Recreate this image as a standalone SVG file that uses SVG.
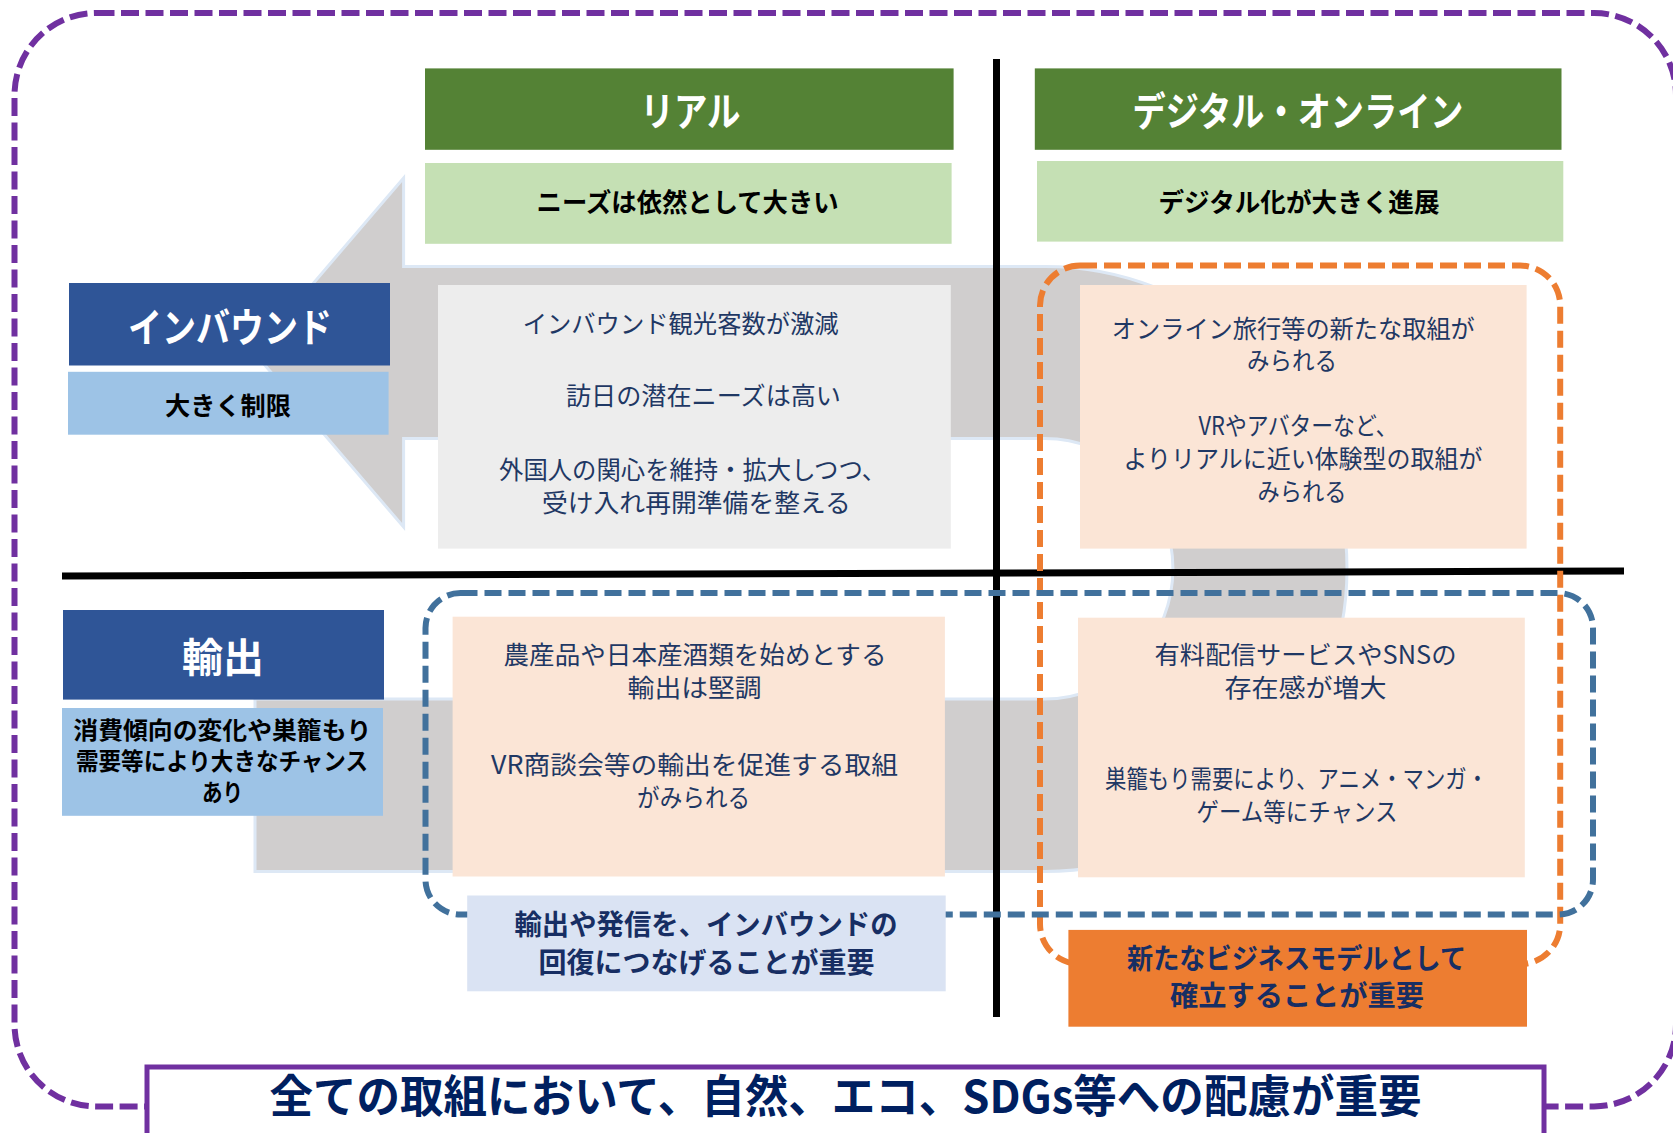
<svg xmlns="http://www.w3.org/2000/svg" width="1673" height="1133" viewBox="0 0 1673 1133">
<style>
text{font-family:"Noto Sans CJK JP","Noto Sans",sans-serif;text-anchor:middle}
.body{font-size:25px;fill:#1F3864}
.hdr{font-size:40px;font-weight:700;fill:#FFFFFF}
.sub{font-size:26px;font-weight:700;fill:#000000}
.key{font-size:28px;font-weight:700;fill:#172E63}
.green{fill:#548235}
.lgreen{fill:#C5E0B4}
.navy{fill:#2F5597}
.sky{fill:#9DC3E6}
.peach{fill:#FBE5D6}
.dash{fill:none;stroke-width:6;stroke-dasharray:17 7}
</style>
<rect x="0" y="0" width="1673" height="1133" fill="#FFFFFF"/>
<g id="outer-frame">
<rect x="14.5" y="13" width="1661.5" height="1093.4" rx="82" ry="82" fill="none" stroke="#7030A0" stroke-width="6" stroke-dasharray="18 6.5"/>
</g>
<g id="connectors">
<path d="M254 352.5 L403.6 178 L403.6 266.5 L1045 266.5 A302 302.5 0 0 1 1045 871.5 L255 871.5 L255 699 L1045 699 A128 130.25 0 0 0 1045 438.5 L403.6 438.5 L403.6 527 Z" fill="#D0CECE" stroke="#DDE8F5" stroke-width="3" stroke-linejoin="miter"/>
</g>
<g id="axes">
<line x1="996.5" y1="59" x2="996.5" y2="1017" stroke="#000" stroke-width="7"/>
<line x1="62" y1="576" x2="1624" y2="571" stroke="#000" stroke-width="7"/>
</g>
<g id="col-real">
<rect class="green" x="425" y="68.4" width="528.6" height="81.4"/>
<text class="hdr" x="690.5" y="126" textLength="100" lengthAdjust="spacingAndGlyphs">リアル</text>
</g>
<g id="col-real-sub">
<rect class="lgreen" x="425" y="163" width="526.6" height="80.8"/>
<text class="sub" x="687.6" y="212" textLength="302" lengthAdjust="spacingAndGlyphs">ニーズは依然として大きい</text>
</g>
<g id="col-digital">
<rect class="green" x="1034.8" y="68.4" width="526.7" height="81.4"/>
<text class="hdr" x="1298" y="126" textLength="331" lengthAdjust="spacingAndGlyphs">デジタル・オンライン</text>
</g>
<g id="col-digital-sub">
<rect class="lgreen" x="1037" y="161" width="526.3" height="80.6"/>
<text class="sub" x="1299" y="212" textLength="281" lengthAdjust="spacingAndGlyphs">デジタル化が大きく進展</text>
</g>
<g id="frame-orange">
<rect class="dash" x="1040" y="265.6" width="520.2" height="698.4" rx="40" ry="40" stroke="#ED7D31"/>
</g>
<g id="frame-blue">
<rect class="dash" x="425.5" y="593" width="1167.5" height="321.5" rx="35" ry="35" stroke="#41719C"/>
</g>
<g id="row-inbound">
<rect class="navy" x="69" y="283" width="321" height="82.5"/>
<text class="hdr" x="230" y="342" textLength="204" lengthAdjust="spacingAndGlyphs">インバウンド</text>
</g>
<g id="row-inbound-sub">
<rect class="sky" x="68" y="371.8" width="320.6" height="62.9"/>
<text class="sub" x="228" y="415" style="font-size:25px" textLength="126" lengthAdjust="spacingAndGlyphs">大きく制限</text>
</g>
<g id="row-export">
<rect class="navy" x="63" y="610" width="321" height="89.6"/>
<text class="hdr" x="223" y="672" textLength="82" lengthAdjust="spacingAndGlyphs">輸出</text>
</g>
<g id="row-export-sub">
<rect class="sky" x="62" y="708" width="321" height="107.8"/>
<text class="sub" x="222.3" y="739" style="font-size:24px" textLength="298" lengthAdjust="spacingAndGlyphs">消費傾向の変化や巣籠もり</text>
<text class="sub" x="222" y="770" style="font-size:24px" textLength="292" lengthAdjust="spacingAndGlyphs">需要等により大きなチャンス</text>
<text class="sub" x="222.4" y="801" style="font-size:24px" textLength="41" lengthAdjust="spacingAndGlyphs">あり</text>
</g>
<g id="cell-inbound-real">
<rect x="438" y="285" width="512.8" height="263.6" fill="#EDEDED"/>
<text class="body" x="680.7" y="333" textLength="316" lengthAdjust="spacingAndGlyphs">インバウンド観光客数が激減</text>
<text class="body" x="703.5" y="405" textLength="275" lengthAdjust="spacingAndGlyphs">訪日の潜在ニーズは高い</text>
<text class="body" x="692.6" y="479" textLength="387" lengthAdjust="spacingAndGlyphs">外国人の関心を維持・拡大しつつ、</text>
<text class="body" x="696.4" y="512" textLength="309" lengthAdjust="spacingAndGlyphs">受け入れ再開準備を整える</text>
</g>
<g id="cell-inbound-digital">
<rect class="peach" x="1080" y="285" width="446.6" height="263.6"/>
<text class="body" x="1293.3" y="338" textLength="363" lengthAdjust="spacingAndGlyphs">オンライン旅行等の新たな取組が</text>
<text class="body" x="1292" y="370" textLength="90" lengthAdjust="spacingAndGlyphs">みられる</text>
<text class="body" x="1298" y="434.6" textLength="199" lengthAdjust="spacingAndGlyphs">VRやアバターなど、</text>
<text class="body" x="1303" y="467.8" textLength="359" lengthAdjust="spacingAndGlyphs">よりリアルに近い体験型の取組が</text>
<text class="body" x="1302" y="501" textLength="89" lengthAdjust="spacingAndGlyphs">みられる</text>
</g>
<g id="cell-export-real">
<rect class="peach" x="452.6" y="616.7" width="492.3" height="259.8"/>
<text class="body" x="695" y="664" textLength="383" lengthAdjust="spacingAndGlyphs">農産品や日本産酒類を始めとする</text>
<text class="body" x="694.6" y="697" textLength="134" lengthAdjust="spacingAndGlyphs">輸出は堅調</text>
<text class="body" x="694.5" y="773.6" textLength="407" lengthAdjust="spacingAndGlyphs">VR商談会等の輸出を促進する取組</text>
<text class="body" x="693.6" y="806.5" textLength="113" lengthAdjust="spacingAndGlyphs">がみられる</text>
</g>
<g id="cell-export-digital">
<rect class="peach" x="1078" y="617.7" width="446.8" height="259.6"/>
<text class="body" x="1305.5" y="664" textLength="302" lengthAdjust="spacingAndGlyphs">有料配信サービスやSNSの</text>
<text class="body" x="1305.5" y="697" textLength="162" lengthAdjust="spacingAndGlyphs">存在感が増大</text>
<text class="body" x="1296.6" y="788.3" textLength="383" lengthAdjust="spacingAndGlyphs">巣籠もり需要により、アニメ・マンガ・</text>
<text class="body" x="1297" y="821" textLength="201" lengthAdjust="spacingAndGlyphs">ゲーム等にチャンス</text>
</g>
<g id="note-export">
<rect x="467.2" y="895.5" width="478.5" height="95.8" fill="#DAE3F3"/>
<text class="key" x="706" y="934.5" textLength="383" lengthAdjust="spacingAndGlyphs">輸出や発信を、インバウンドの</text>
<text class="key" x="706.5" y="972.8" textLength="336" lengthAdjust="spacingAndGlyphs">回復につなげることが重要</text>
</g>
<g id="note-digital">
<rect x="1068.4" y="929.9" width="458.6" height="96.8" fill="#ED7D31"/>
<text class="key" x="1296.6" y="969" textLength="339" lengthAdjust="spacingAndGlyphs">新たなビジネスモデルとして</text>
<text class="key" x="1297" y="1005.7" textLength="254" lengthAdjust="spacingAndGlyphs">確立することが重要</text>
</g>
<g id="banner">
<rect x="147" y="1067" width="1397" height="80" fill="#FFFFFF" stroke="#7030A0" stroke-width="5"/>
<text x="845.5" y="1113" style="font-size:45px;font-weight:700;fill:#002060" textLength="1152" lengthAdjust="spacingAndGlyphs">全ての取組において、自然、エコ、SDGs等への配慮が重要</text>
</g>
</svg>
